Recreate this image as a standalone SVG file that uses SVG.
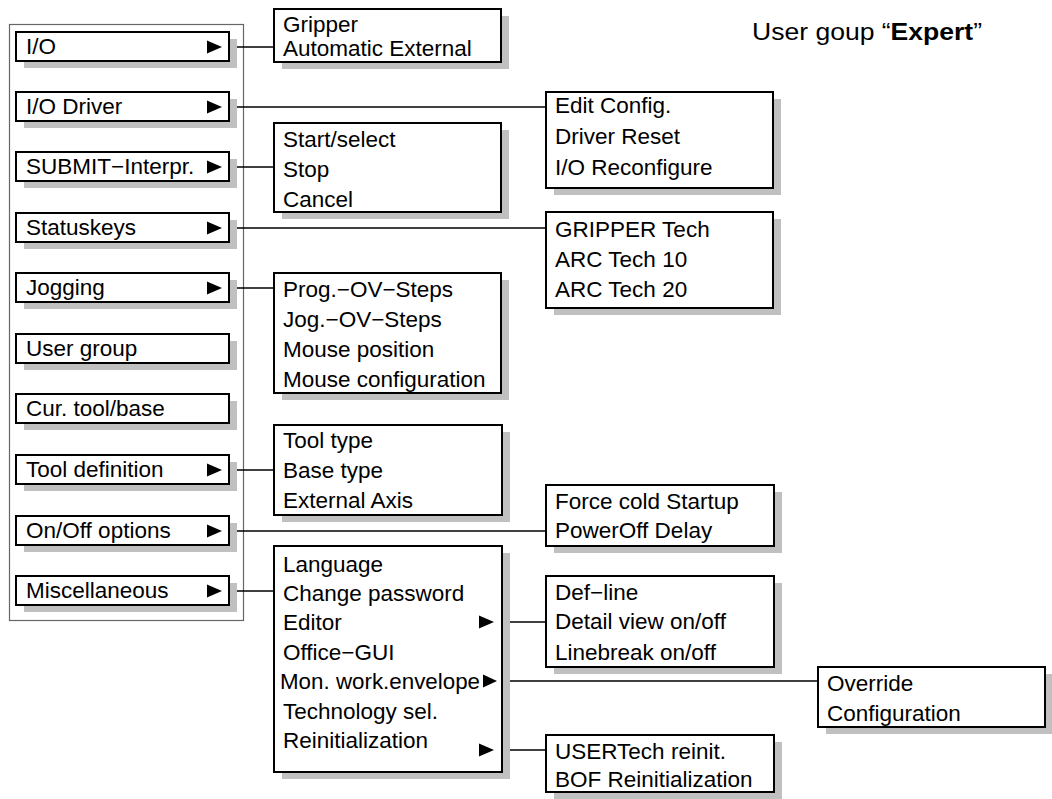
<svg xmlns="http://www.w3.org/2000/svg" width="1052" height="799" viewBox="0 0 1052 799">
<style>
text{font-family:"Liberation Sans",Arial,sans-serif;font-size:22.5px;fill:#000}
.sh{fill:#c0c0c0}
.bx{fill:#fff;stroke:#000;stroke-width:2}
.ln{stroke:#000;stroke-width:1.3;fill:none}
.ar{fill:#000}
</style>
<rect width="1052" height="799" fill="#fff"/>
<rect x="9.5" y="24.5" width="234" height="596" fill="#fff" stroke="#666" stroke-width="1.2"/>

<g id="connectors">
<line class="ln" x1="229" y1="47" x2="274" y2="47"/>
<line class="ln" x1="229" y1="107" x2="546" y2="107"/>
<line class="ln" x1="229" y1="167" x2="274" y2="167"/>
<line class="ln" x1="229" y1="228" x2="546" y2="228"/>
<line class="ln" x1="229" y1="288" x2="274" y2="288"/>
<line class="ln" x1="229" y1="470" x2="274" y2="470"/>
<line class="ln" x1="229" y1="531" x2="546" y2="531"/>
<line class="ln" x1="229" y1="591" x2="274" y2="591"/>
<line class="ln" x1="502" y1="622" x2="546" y2="622"/>
<line class="ln" x1="502" y1="681" x2="818" y2="681"/>
<line class="ln" x1="502" y1="750" x2="546" y2="750"/>
</g>

<g id="item-io">
<rect class="sh" x="24" y="39" width="213" height="29"/>
<rect class="bx" x="16" y="32" width="213" height="29"/>
<text x="26" y="54">I/O</text>
<polygon class="ar" points="207,40.5 222,47 207,53.5"/>
</g>
<g id="item-iodriver">
<rect class="sh" x="24" y="99" width="213" height="29"/>
<rect class="bx" x="16" y="92" width="213" height="29"/>
<text x="26" y="114">I/O Driver</text>
<polygon class="ar" points="207,100.5 222,107 207,113.5"/>
</g>
<g id="item-submit">
<rect class="sh" x="24" y="159" width="213" height="29"/>
<rect class="bx" x="16" y="152" width="213" height="29"/>
<text x="26" y="174">SUBMIT−Interpr.</text>
<polygon class="ar" points="207,160.5 222,167 207,173.5"/>
</g>
<g id="item-statuskeys">
<rect class="sh" x="24" y="220" width="213" height="29"/>
<rect class="bx" x="16" y="213" width="213" height="29"/>
<text x="26" y="235">Statuskeys</text>
<polygon class="ar" points="207,221.5 222,228 207,234.5"/>
</g>
<g id="item-jogging">
<rect class="sh" x="24" y="280" width="213" height="29"/>
<rect class="bx" x="16" y="273" width="213" height="29"/>
<text x="26" y="295">Jogging</text>
<polygon class="ar" points="207,281.5 222,288 207,294.5"/>
</g>
<g id="item-usergroup">
<rect class="sh" x="24" y="341" width="213" height="29"/>
<rect class="bx" x="16" y="334" width="213" height="29"/>
<text x="26" y="356">User group</text>
</g>
<g id="item-curtool">
<rect class="sh" x="24" y="401" width="213" height="29"/>
<rect class="bx" x="16" y="394" width="213" height="29"/>
<text x="26" y="416">Cur. tool/base</text>
</g>
<g id="item-tooldef">
<rect class="sh" x="24" y="462" width="213" height="29"/>
<rect class="bx" x="16" y="455" width="213" height="29"/>
<text x="26" y="477">Tool definition</text>
<polygon class="ar" points="207,463.5 222,470 207,476.5"/>
</g>
<g id="item-onoff">
<rect class="sh" x="24" y="523" width="213" height="29"/>
<rect class="bx" x="16" y="516" width="213" height="29"/>
<text x="26" y="538">On/Off options</text>
<polygon class="ar" points="207,524.5 222,531 207,537.5"/>
</g>
<g id="item-misc">
<rect class="sh" x="24" y="583" width="213" height="29"/>
<rect class="bx" x="16" y="576" width="213" height="29"/>
<text x="26" y="598">Miscellaneous</text>
<polygon class="ar" points="207,584.5 222,591 207,597.5"/>
</g>

<g id="menu-io">
<rect class="sh" x="282" y="16" width="227" height="53"/>
<rect class="bx" x="274" y="9" width="227" height="53"/>
<text x="283" y="32">Gripper</text>
<text x="283" y="56">Automatic External</text>
</g>
<g id="menu-iodriver">
<rect class="sh" x="554" y="99" width="227" height="96"/>
<rect class="bx" x="546" y="92" width="227" height="96"/>
<text x="555" y="113">Edit Config.</text>
<text x="555" y="144">Driver Reset</text>
<text x="555" y="175">I/O Reconfigure</text>
</g>
<g id="menu-submit">
<rect class="sh" x="282" y="130" width="227" height="89"/>
<rect class="bx" x="274" y="123" width="227" height="89"/>
<text x="283" y="147">Start/select</text>
<text x="283" y="177">Stop</text>
<text x="283" y="207">Cancel</text>
</g>
<g id="menu-statuskeys">
<rect class="sh" x="554" y="219" width="227" height="96"/>
<rect class="bx" x="546" y="212" width="227" height="96"/>
<text x="555" y="237">GRIPPER Tech</text>
<text x="555" y="267">ARC Tech 10</text>
<text x="555" y="297">ARC Tech 20</text>
</g>
<g id="menu-jogging">
<rect class="sh" x="282" y="280" width="227" height="120"/>
<rect class="bx" x="274" y="273" width="227" height="120"/>
<text x="283" y="297">Prog.−OV−Steps</text>
<text x="283" y="327">Jog.−OV−Steps</text>
<text x="283" y="357">Mouse position</text>
<text x="283" y="387">Mouse configuration</text>
</g>
<g id="menu-tooldef">
<rect class="sh" x="282" y="432" width="228" height="90"/>
<rect class="bx" x="274" y="425" width="228" height="90"/>
<text x="283" y="448">Tool type</text>
<text x="283" y="478">Base type</text>
<text x="283" y="508">External Axis</text>
</g>
<g id="menu-onoff">
<rect class="sh" x="554" y="492" width="228" height="61"/>
<rect class="bx" x="546" y="485" width="228" height="61"/>
<text x="555" y="509">Force cold Startup</text>
<text x="555" y="538">PowerOff Delay</text>
</g>
<g id="menu-misc">
<rect class="sh" x="282" y="553" width="228" height="226"/>
<rect class="bx" x="274" y="546" width="228" height="226"/>
<text x="283" y="572">Language</text>
<text x="283" y="601">Change password</text>
<text x="283" y="630">Editor</text>
<text x="283" y="660">Office−GUI</text>
<text x="280" y="689" textLength="200" lengthAdjust="spacingAndGlyphs">Mon. work.envelope</text>
<text x="283" y="719">Technology sel.</text>
<text x="283" y="748">Reinitialization</text>
<polygon class="ar" points="479,615.5 494,622 479,628.5"/>
<polygon class="ar" points="483,674.5 497,681 483,687.5"/>
<polygon class="ar" points="479,743.5 494,750 479,756.5"/>
</g>
<g id="menu-editor">
<rect class="sh" x="554" y="583" width="228" height="91"/>
<rect class="bx" x="546" y="576" width="228" height="91"/>
<text x="555" y="600">Def−line</text>
<text x="555" y="629">Detail view on/off</text>
<text x="555" y="660">Linebreak on/off</text>
</g>
<g id="menu-monwork">
<rect class="sh" x="826" y="674" width="227" height="60"/>
<rect class="bx" x="818" y="667" width="227" height="60"/>
<text x="827" y="691">Override</text>
<text x="827" y="721">Configuration</text>
</g>
<g id="menu-reinit">
<rect class="sh" x="554" y="742" width="228" height="57"/>
<rect class="bx" x="546" y="735" width="228" height="57"/>
<text x="555" y="759">USERTech reinit.</text>
<text x="555" y="787">BOF Reinitialization</text>
</g>

<g id="title">
<text x="752" y="40" textLength="230" lengthAdjust="spacingAndGlyphs" style="font-size:24px">User goup “<tspan font-weight="bold">Expert</tspan>”</text>
</g>
</svg>
